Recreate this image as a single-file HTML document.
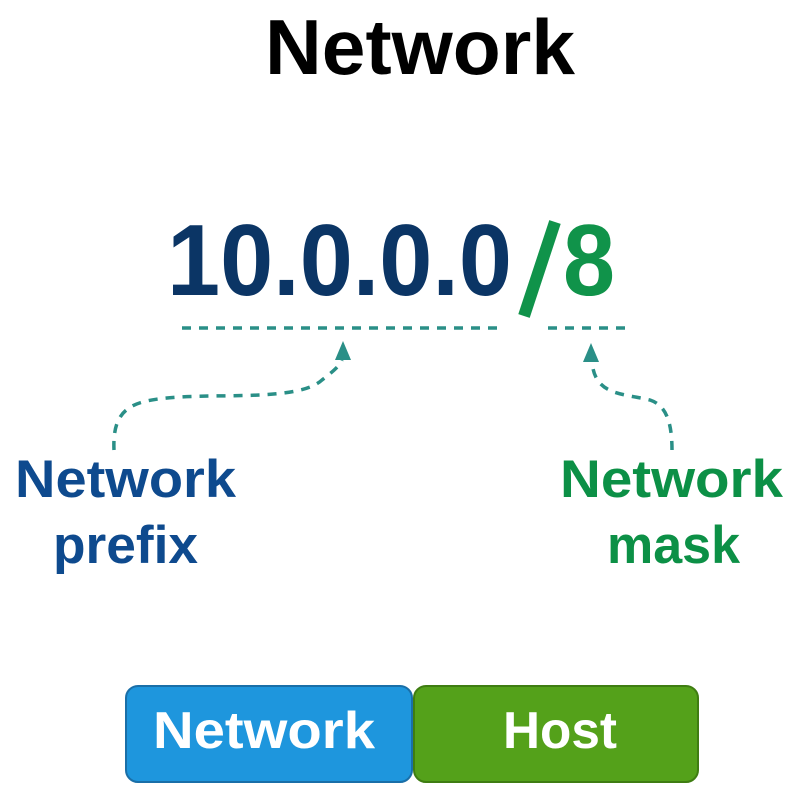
<!DOCTYPE html>
<html><head><meta charset="utf-8"><style>
html,body{margin:0;padding:0;background:#fff;}
svg{display:block;}
text{font-family:"Liberation Sans",sans-serif;font-weight:bold;}
</style></head><body>
<svg width="794" height="793" viewBox="0 0 794 793" xmlns="http://www.w3.org/2000/svg">
<text x="265" y="74" font-size="78" fill="#000" textLength="310" lengthAdjust="spacingAndGlyphs">Network</text>
<text x="167" y="295" font-size="101" fill="#0b3565" textLength="345" lengthAdjust="spacingAndGlyphs">10.0.0.0</text>
<path d="M555 222 L524 316" stroke="#10934a" stroke-width="12" fill="none"/>
<text x="563" y="295" font-size="101" fill="#10934a" textLength="52" lengthAdjust="spacingAndGlyphs">8</text>
<g stroke="#2a8f87" stroke-width="3.5" fill="none" stroke-dasharray="9,8">
<path d="M182 328 H500"/>
<path d="M548 328 H626"/>
<path d="M114 450 C112 405 135 400 180 397 C230 394 300 400 322 380 C335 370 340 365 342 360"/>
<path d="M672 450 C672 420 665 405 650 400 C620 393 595 395 592 362"/>
</g>
<path d="M335 360 L343 341 L351 360 Z" fill="#2a8f87"/>
<path d="M583 362 L591 343 L599 362 Z" fill="#2a8f87"/>
<text x="15" y="497" font-size="53" fill="#0e4a8e" textLength="221" lengthAdjust="spacingAndGlyphs">Network</text>
<text x="53" y="563" font-size="53" fill="#0e4a8e" textLength="145" lengthAdjust="spacingAndGlyphs">prefix</text>
<text x="560" y="497" font-size="53" fill="#0c9046" textLength="223" lengthAdjust="spacingAndGlyphs">Network</text>
<text x="607" y="563" font-size="53" fill="#0c9046" textLength="133" lengthAdjust="spacingAndGlyphs">mask</text>
<rect x="126" y="686" width="286" height="96" rx="12" fill="#1e96dd" stroke="#1a6fa8" stroke-width="2"/>
<rect x="414" y="686" width="284" height="96" rx="12" fill="#54a11a" stroke="#3f7d12" stroke-width="2"/>
<text x="153" y="748" font-size="52" fill="#fff" textLength="222" lengthAdjust="spacingAndGlyphs">Network</text>
<text x="503" y="748" font-size="52" fill="#fff" textLength="114" lengthAdjust="spacingAndGlyphs">Host</text>
</svg>
</body></html>
